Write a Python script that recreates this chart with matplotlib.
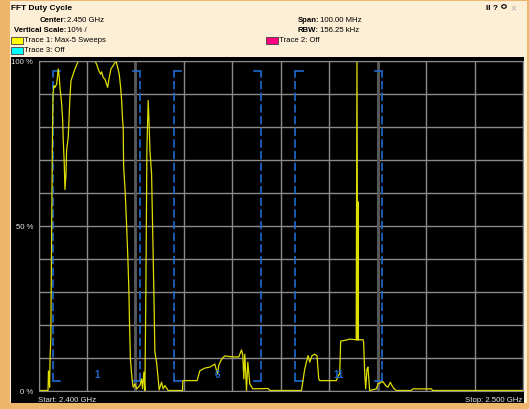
import numpy as np
import matplotlib.pyplot as plt
from matplotlib.patches import Rectangle

W, H = 529, 410

# trace 1: max of 5 sweeps (MHz, duty %)
freq_mhz = [2400.0, 2401.96, 2402.06, 2402.17, 2402.29, 2402.37, 2402.54, 2402.64,
            2402.74, 2402.85, 2402.99, 2403.20, 2403.40, 2403.75, 2404.08, 2404.29,
            2404.43, 2404.78, 2404.99, 2405.11, 2405.32, 2405.46, 2405.67, 2405.81,
            2406.14, 2406.49, 2406.70, 2407.05, 2407.53, 2408.21, 2411.65, 2412.00,
            2412.47, 2412.83, 2413.03, 2413.36, 2413.71, 2414.06, 2414.27, 2414.54,
            2414.95, 2415.42, 2415.98, 2416.25, 2416.66, 2416.95, 2417.16, 2417.36,
            2417.48, 2417.57, 2417.90, 2418.19, 2418.45, 2418.66, 2418.80, 2418.97,
            2419.18, 2419.38, 2419.55, 2419.90, 2420.25, 2420.93, 2421.28, 2421.48,
            2421.75, 2421.96, 2422.17, 2422.37, 2422.64, 2422.85, 2422.99, 2423.34,
            2423.55, 2423.81, 2424.02, 2424.37, 2424.70, 2424.91, 2425.40, 2425.73,
            2426.08, 2426.76, 2429.73, 2429.79, 2432.74, 2433.30, 2434.33, 2435.36,
            2436.39, 2436.95, 2437.22, 2437.84, 2438.45, 2440.10, 2441.34, 2441.90,
            2442.17, 2442.37, 2442.58, 2442.93, 2443.20, 2443.61, 2444.23, 2447.38,
            2447.73, 2454.27, 2454.95, 2455.63, 2455.98, 2456.46, 2457.01, 2457.49,
            2457.84, 2458.04, 2461.49, 2461.82, 2462.17, 2462.37, 2463.55, 2464.23,
            2465.57, 2465.73, 2465.88, 2466.97, 2467.11, 2467.32, 2467.53, 2467.80,
            2468.00, 2468.35, 2469.73, 2470.06, 2470.76, 2471.09, 2471.65, 2472.13,
            2472.62, 2472.95, 2473.30, 2473.86, 2476.95, 2477.28, 2481.07, 2481.34,
            2500.0]
duty_pct = [0.0, 0.0, 5.9, 5.0, 1.0, 8.6, 15.6, 33.8,
            49.0, 73.0, 90.0, 92.5, 92.0, 93.0, 97.6, 95.0,
            92.0, 87.0, 82.0, 76.0, 68.7, 61.0, 65.7, 73.0,
            77.0, 89.0, 94.0, 95.5, 97.6, 100.0, 100.0, 99.0,
            97.0, 96.0, 96.7, 95.0, 94.5, 93.0, 92.0, 94.5,
            97.6, 98.6, 100.0, 98.6, 96.0, 92.0, 88.0, 82.0,
            80.0, 68.0, 60.0, 50.0, 40.0, 30.0, 19.6, 9.6,
            5.6, 2.6, 1.0, 2.0, 0.5, 1.5, 3.5, 0.5,
            5.6, 0.0, 31.7, 73.0, 88.0, 80.0, 73.0, 65.7,
            50.0, 30.0, 11.7, 8.6, 3.5, 0.2, 2.5, 0.5,
            1.5, 0.0, 0.0, 3.0, 3.0, 6.0, 6.8, 7.1,
            8.0, 5.0, 7.7, 9.6, 10.5, 10.2, 10.2, 12.3,
            10.8, 3.5, 11.0, 0.0, 8.6, 2.0, 0.5, 0.6,
            0.0, 0.0, 6.5, 10.6, 8.6, 10.6, 11.0, 10.5,
            3.5, 3.0, 3.0, 4.5, 5.0, 15.0, 15.3, 15.6,
            15.4, 100.0, 15.4, 15.4, 14.7, 5.6, 0.5, 6.5,
            7.1, 0.0, 0.5, 2.0, 2.5, 2.7, 1.5, 1.0,
            2.5, 1.5, 0.7, 0.0, 0.0, 0.5, 0.5, 0.0,
            0.0]

# narrow spike near 2465.7 MHz, dense part
spike_mhz = 2465.73
spike_lo = 15.4
spike_hi = 57.6

# wifi channel masks
ch_names = ['1', '6', '11']
ch_center = [2412, 2437, 2462]
ch_low = [2403, 2428, 2453]
ch_high = [2421, 2446, 2471]
mask_bottom, mask_top = 3, 97

# darker grid lines
marker_mhz = [2420, 2470]

ORANGE = '#eeb56c'
PEACH = '#fdeed6'
BLUE = '#1f6ad0'
YELLOW = '#dede00'
GRID = '#8a8a8a'
FS = 5.6

plt.rcParams['font.family'] = ['Liberation Sans', 'DejaVu Sans']

fig = plt.figure(figsize=(W / 100, H / 100), dpi=100, facecolor=ORANGE)


def fx(x):
    return x / W


def fy(y):
    return 1 - y / H


def box(x0, y0, x1, y1, **kw):
    # rectangle in pixel coords (y down), kept behind the axes
    r = Rectangle((fx(x0), fy(y1)), (x1 - x0) / W, (y1 - y0) / H,
                  transform=fig.transFigure, **kw)
    fig.add_artist(r)
    return r


box(9.5, 2, 527, 404, facecolor=PEACH, edgecolor='none', zorder=-3)
box(10.5, 58, 524.3, 404, facecolor='black', edgecolor='none', zorder=-2)

ax = fig.add_axes([fx(38.5), fy(391.5), (523 - 38.5) / W, (391.5 - 62) / H])
ax.set_facecolor('black')
ax.set_xlim(2400, 2500)
ax.set_ylim(0, 100)
ax.set_xticks(np.arange(2400, 2501, 10))
ax.set_yticks(np.arange(0, 101, 10))
ax.set_xticklabels([])
ax.set_yticklabels(['0 %', '', '', '', '', '50 %', '', '', '', '', '100 %'])
ax.tick_params(length=0, labelsize=FS, labelcolor='#e6e6e6', pad=4)
ax.grid(True, color=GRID, lw=1)
for s in ax.spines.values():
    s.set_color(GRID)
for m in marker_mhz:
    ax.axvline(m, color='#5a5a5a', lw=2)

# channel masks (dashed brackets)
hook = 1.5
for lo, hi, c, name in zip(ch_low, ch_high, ch_center, ch_names):
    for edge, d in ((lo, 1), (hi, -1)):
        ax.plot([edge, edge], [mask_bottom, mask_top], color=BLUE, lw=1.2, dashes=(5, 2))
        ax.plot([edge + d * hook, edge], [mask_top, mask_top], color=BLUE, lw=1.2)
        ax.plot([edge + d * hook, edge], [mask_bottom, mask_bottom], color=BLUE, lw=1.2)
    ax.text(c, 5, name, color=BLUE, fontsize=7, fontweight='bold', ha='center', va='center')

ax.plot(freq_mhz, duty_pct, color=YELLOW, lw=0.9)
ax.vlines(spike_mhz, spike_lo, spike_hi, color=YELLOW, lw=2.2)

# header texts
fig.text(fx(11), fy(8.5), 'FFT Duty Cycle', fontsize=6, fontweight='bold', va='center')
fig.text(fx(486), fy(8.5), 'II ?', fontsize=6, fontweight='bold', va='center')
fig.add_artist(plt.Circle((fx(504), fy(7.5)), 2.3 / W, transform=fig.transFigure,
                          fill=False, edgecolor='black', lw=0.8))
fig.text(fx(510), fy(8.5), '×', fontsize=7, color='#b0b0b0', va='center')

fig.text(fx(66.5), fy(21), 'Center:', fontsize=FS, fontweight='bold', ha='right', va='center')
fig.text(fx(67), fy(21), '2.450 GHz', fontsize=FS, va='center')
fig.text(fx(66.5), fy(30.5), 'Vertical Scale:', fontsize=FS, fontweight='bold', ha='right', va='center')
fig.text(fx(67), fy(30.5), '10% /', fontsize=FS, va='center')
fig.text(fx(319), fy(21), 'Span:', fontsize=FS, fontweight='bold', ha='right', va='center')
fig.text(fx(319.5), fy(21), '100.00 MHz', fontsize=FS, va='center')
fig.text(fx(319), fy(30.5), 'RBW:', fontsize=FS, fontweight='bold', ha='right', va='center')
fig.text(fx(319.5), fy(30.5), '156.25 kHz', fontsize=FS, va='center')

for x0, y0, col, label in ((11, 41, '#ffff00', 'Trace 1: Max-5 Sweeps'),
                           (266, 41, '#ff0080', 'Trace 2: Off'),
                           (11, 51, '#00ffff', 'Trace 3: Off')):
    box(x0, y0 - 3.5, x0 + 11.5, y0 + 3.5, facecolor=col, edgecolor='#404040', lw=0.6)
    fig.text(fx(x0 + 13), fy(y0), label, fontsize=FS, va='center')

fig.text(fx(38.5), fy(400.5), 'Start: 2.400 GHz', fontsize=FS, color='#e6e6e6', va='center')
fig.text(fx(522), fy(400.5), 'Stop: 2.500 GHz', fontsize=FS, color='#e6e6e6', va='center', ha='right')

fig.savefig('out.png', dpi=100, facecolor=ORANGE)
